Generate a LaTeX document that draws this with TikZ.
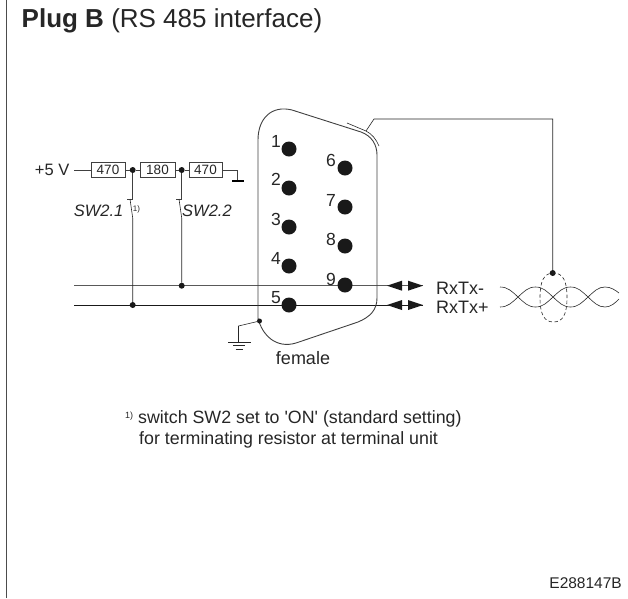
\documentclass[tikz,border=0pt]{standalone}
\usepackage{fontspec}
\setmainfont{Liberation Sans}
\newfontfamily\plainf{Liberation Sans}
\tikzset{
  wire/.style={line width=0.8pt,draw=black!75},
  thinw/.style={line width=0.6pt,draw=black!85},
  resistor/.style={draw=black!75,line width=0.8pt,minimum height=14.5pt,inner sep=0pt,font=\fontsize{13.5}{13.5}\selectfont,text=black!85},
  dotj/.style={circle,fill=black!90,inner sep=0pt,minimum size=6pt},
  pin/.style={circle,fill=black!90,inner sep=0pt,minimum size=15pt},
  lbl/.style={font=\fontsize{17.5}{17.5}\selectfont,text=black!85,inner sep=0pt},
}
\begin{document}
\begin{tikzpicture}[x=1pt,y=-1pt]
\useasboundingbox (0,0) rectangle (628,598);
% frame
\coordinate (ftl) at (6.5,598); \coordinate (ftt) at (6.5,0);
\draw[black!70,line width=1pt] (ftl) -- (ftt);
% titles
\node[lbl,anchor=base west,font=\fontsize{26}{26}\selectfont] (title) at (21.5,27.5) {\textbf{Plug B} (RS 485 interface)};
% resistor chain
\node[lbl,anchor=east,font=\fontsize{16.5}{16.5}\selectfont] (v5) at (69.5,170) {+5 V};
\node[resistor,minimum width=34pt] (r1) at (108,170) {470};
\node[dotj] (j1) at (132.7,170) {};
\node[resistor,minimum width=35pt] (r2) at (157.5,170) {180};
\node[dotj] (j2) at (181.7,170) {};
\node[resistor,minimum width=33pt] (r3) at (205.5,170) {470};
\coordinate (gt) at (237,170);
\coordinate (gb) at (237,181);
\coordinate (v5a) at (74,170);
\draw[wire] (v5a) -- (r1);
\draw[wire] (r1) -- (j1) -- (r2) -- (j2) -- (r3) -- (gt) -- (gb);
\coordinate (gbl) at (232,181); \coordinate (gbr) at (243.5,181);
\draw[black,line width=2pt] (gbl) -- (gbr);
% bus lines
\coordinate (l1a) at (74,285.7); \coordinate (l1b) at (423,285.7);
\coordinate (l2a) at (74,305); \coordinate (l2b) at (423,305);
\draw[black!65,line width=1pt] (l1a) -- (l1b);
\draw[black!90,line width=0.8pt] (l2a) -- (l2b);
\node[dotj] (j3) at (132.7,305) {};
\node[dotj] (j4) at (181.7,285.7) {};
% switches
\coordinate (s1a) at (132.7,199); \coordinate (s1b) at (132.7,218);
\coordinate (s1c) at (130,199); \coordinate (s1l) at (127,199);
\draw[wire] (j1) -- (s1a) -- (s1l);
\draw[thinw] (s1c) -- (s1b) -- (j3);
\coordinate (s2a) at (181.7,199); \coordinate (s2b) at (181.7,218);
\coordinate (s2c) at (179,199); \coordinate (s2l) at (176,199);
\draw[wire] (j2) -- (s2a) -- (s2l);
\draw[thinw] (s2c) -- (s2b) -- (j4);
\node[lbl,anchor=east,font=\fontsize{16.5}{16.5}\selectfont\itshape] (sw1) at (123.5,211) {SW2.1};
\node[lbl,anchor=west,font=\fontsize{16.5}{16.5}\selectfont\itshape] (sw2) at (182,211) {SW2.2};
\node[inner sep=0pt,font=\fontsize{8}{8}\selectfont,text=black!85] (fn) at (136.5,209) {1)};
% connector shell
\draw[black!75,line width=0.9pt] (258,140) .. controls (258,118) and (272,105) .. (292,110)
  -- (361,132) .. controls (372,136) and (377,145) .. (377,155)
  -- (377,298) .. controls (377,310) and (370,317) .. (358,322)
  -- (296,343) .. controls (276,349) and (262,335) .. (258,318) -- cycle;
\coordinate (sh1) at (347,123); \coordinate (sh2) at (366,131); \coordinate (sh3) at (379,146);
\draw[thinw] (sh1) -- (sh2) .. controls (372,134) and (376,139) .. (sh3);
\coordinate (sk1) at (374,119); \coordinate (sk2) at (552.7,119);
\node[dotj] (j6) at (552.7,273) {};
\draw[thinw] (sh2) -- (sk1) -- (sk2) -- (j6);
% pins
\foreach \n/\y/\t/\ty in {a/149/1/141,b/188/2/179,c/227/3/219,d/266/4/258,e/305/5/298}{
  \node[pin] (p\n) at (289,\y) {};
  \node[lbl] (t\n) at (276,\ty) {\t};
}
\foreach \n/\y/\t/\ty in {f/168/6/160,g/207/7/200,h/246/8/239,i/285/9/279}{
  \node[pin] (p\n) at (345,\y) {};
  \node[lbl] (t\n) at (331,\ty) {\t};
}
% ground
\node[dotj,minimum size=5pt] (j5) at (259.5,321) {};
\coordinate (g1) at (238.5,326); \coordinate (g2) at (238.5,342);
\draw[thinw] (j5) -- (g1) -- (g2);
\coordinate (g3) at (228,342); \coordinate (g4) at (251,342);
\coordinate (g5) at (233,345.5); \coordinate (g6) at (245,345.5);
\coordinate (g7) at (235.5,349); \coordinate (g8) at (243,349);
\draw[thinw] (g3) -- (g4) (g5) -- (g6) (g7) -- (g8);
\node[lbl,font=\fontsize{18}{18}\selectfont] (fem) at (303,358) {female};
% arrows
\foreach \y in {285.7,305}{
  \fill[black!90] (387,\y) -- (402,\y-5) -- (402,\y+5) -- cycle;
  \fill[black!90] (423,\y) -- (408,\y-5) -- (408,\y+5) -- cycle;
}
\node[lbl,anchor=west,font=\fontsize{18}{18}\selectfont] (rx1) at (436,288) {RxTx-};
\node[lbl,anchor=west,font=\fontsize{18}{18}\selectfont] (rx2) at (436,307) {RxTx+};
% twisted pair
\draw[thinw] (500,287) .. controls (508,287) and (512,291.5) .. (518,297)
  .. controls (524,302.5) and (528,307) .. (535.5,307)
  .. controls (543,307) and (547,302.5) .. (553,297)
  .. controls (559,291.5) and (563,287) .. (570.5,287)
  .. controls (578,287) and (582,291.5) .. (588,297)
  .. controls (594,302.5) and (598,307) .. (605,307)
  .. controls (611,307) and (615,303) .. (619,299);
\draw[thinw] (500,307) .. controls (508,307) and (512,302.5) .. (518,297)
  .. controls (524,291.5) and (528,287) .. (535.5,287)
  .. controls (543,287) and (547,291.5) .. (553,297)
  .. controls (559,302.5) and (563,307) .. (570.5,307)
  .. controls (578,307) and (582,302.5) .. (588,297)
  .. controls (594,291.5) and (598,287) .. (605,287)
  .. controls (611,287) and (615,290) .. (619,293);
\draw[thinw,dash pattern=on 3.5pt off 2.5pt] (540,297.5)
  .. controls (540,281) and (544,273) .. (553.5,273)
  .. controls (563,273) and (567,281) .. (567,297.5)
  .. controls (567,314) and (563,322) .. (553.5,322)
  .. controls (544,322) and (540,314) .. (540,297.5) -- cycle;
% footnote
\node[lbl,anchor=base west,font=\plainf\fontsize{17.8}{17.8}\selectfont] (n1) at (138,423) {switch SW2 set to 'ON' (standard setting)};
\node[inner sep=0pt,anchor=base west,font=\fontsize{9}{9}\selectfont,text=black!85] (n0) at (125,418) {1)};
\node[lbl,anchor=base west,font=\fontsize{17.8}{17.8}\selectfont] (n2) at (139,444) {for terminating resistor at terminal unit};
\node[lbl,anchor=base east,font=\fontsize{15.5}{15.5}\selectfont] (code) at (622,588) {E288147B};
\end{tikzpicture}
\end{document}
